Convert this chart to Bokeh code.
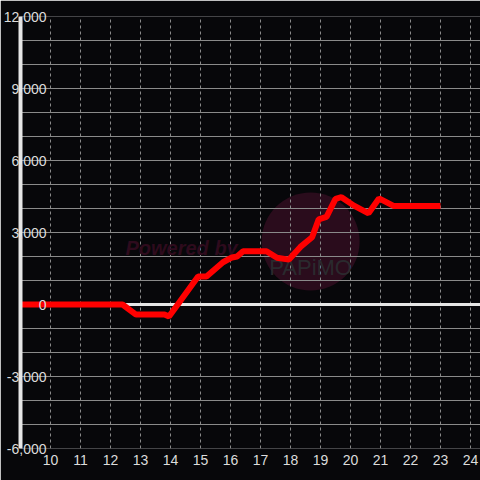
from bokeh.plotting import figure
from bokeh.models import FixedTicker, NumeralTickFormatter, Span, Label, Range1d
from bokeh.embed import file_html
from bokeh.resources import INLINE

# ---- data ----
hours = [9.0, 12.4, 12.85, 13.8, 13.95, 14.92, 15.2, 15.75, 16.05, 16.22, 16.42,
         17.2, 17.55, 17.95, 18.33, 18.72, 18.94, 19.2, 19.5, 19.7, 20.1, 20.6,
         20.95, 21.45, 23.0]
values = [0, 0, -420, -420, -500, 1170, 1170, 1760, 1960, 2000, 2220,
          2220, 1950, 1870, 2400, 2800, 3550, 3650, 4400, 4470, 4130, 3800,
          4420, 4100, 4100]

x_ticks = [10, 11, 12, 13, 14, 15, 16, 17, 18, 19, 20, 21, 22, 23, 24]
y_ticks = [-6000, -3000, 0, 3000, 6000, 9000, 12000]
y_grid = [-6000, -5000, -4000, -3000, -2000, -1000, 0, 1000, 2000, 3000,
          4000, 5000, 6000, 7000, 8000, 9000, 10000, 11000, 12000]
x_grid = [9, 10, 11, 12, 13, 14, 15, 16, 17, 18, 19, 20, 21, 22, 23, 24]

BG = "#07070a"
GRID = "#8a8a8a"
LABEL = "#dcdcdc"
FONT = "Liberation Sans"

p = figure(width=480, height=480, output_backend="svg", toolbar_location=None,
           x_range=Range1d(9, 24.3333), y_range=Range1d(-6000, 12000),
           min_border_left=20, min_border_right=0, min_border_top=16,
           min_border_bottom=32, background_fill_color=BG, border_fill_color=BG)
p.outline_line_color = None

# watermark
p.circle(x=[18.67], y=[2625], radius=49, radius_units="screen",
         fill_color="#2a0c1c", line_color=None, level="image")
p.add_layout(Label(x=14.37, y=2375, text="Powered by", text_align="center",
                   text_baseline="alphabetic", text_color="#2e0b1d",
                   text_font=FONT, text_font_size="20px", text_font_style="bold italic",
                   level="underlay"))
p.add_layout(Label(x=18.67, y=1540, text="PAPiMO", text_align="center",
                   text_baseline="alphabetic", text_color="#2a2a2e",
                   text_font=FONT, text_font_size="22px", level="underlay"))

# grids
p.ygrid.ticker = FixedTicker(ticks=y_grid)
p.ygrid.grid_line_color = GRID
p.ygrid.grid_line_width = 1
p.xgrid.ticker = FixedTicker(ticks=x_grid)
p.xgrid.grid_line_color = GRID
p.xgrid.grid_line_dash = "3 3"
p.xgrid.grid_line_width = 1

# zero line
p.add_layout(Span(location=0, dimension="width", line_color="#e6e6e6",
                  line_width=3, level="underlay"))

# data line
p.line(hours, values, line_color="#ff0000", line_width=6)

# y axis
ya = p.yaxis[0]
ya.ticker = FixedTicker(ticks=y_ticks)
ya.formatter = NumeralTickFormatter(format="0,0")
ya.axis_line_color = "#e6e6e6"
ya.axis_line_width = 4
ya.major_tick_line_color = None
ya.minor_tick_line_color = None
ya.major_tick_out = 0
ya.major_tick_in = 0
ya.major_label_standoff = -26
ya.major_label_text_color = LABEL
ya.major_label_text_font = FONT
ya.major_label_text_font_size = "14px"
for name in ("major_label_background_fill_color",):
    if hasattr(ya, name):
        setattr(ya, name, BG)

# x axis
xa = p.xaxis[0]
xa.ticker = FixedTicker(ticks=x_ticks)
xa.axis_line_color = None
xa.major_tick_line_color = None
xa.minor_tick_line_color = None
xa.major_tick_out = 0
xa.major_tick_in = 0
xa.major_label_standoff = 6
xa.major_label_text_color = LABEL
xa.major_label_text_font = FONT
xa.major_label_text_font_size = "14px"

open("out.html", "w").write(file_html(p, INLINE))
